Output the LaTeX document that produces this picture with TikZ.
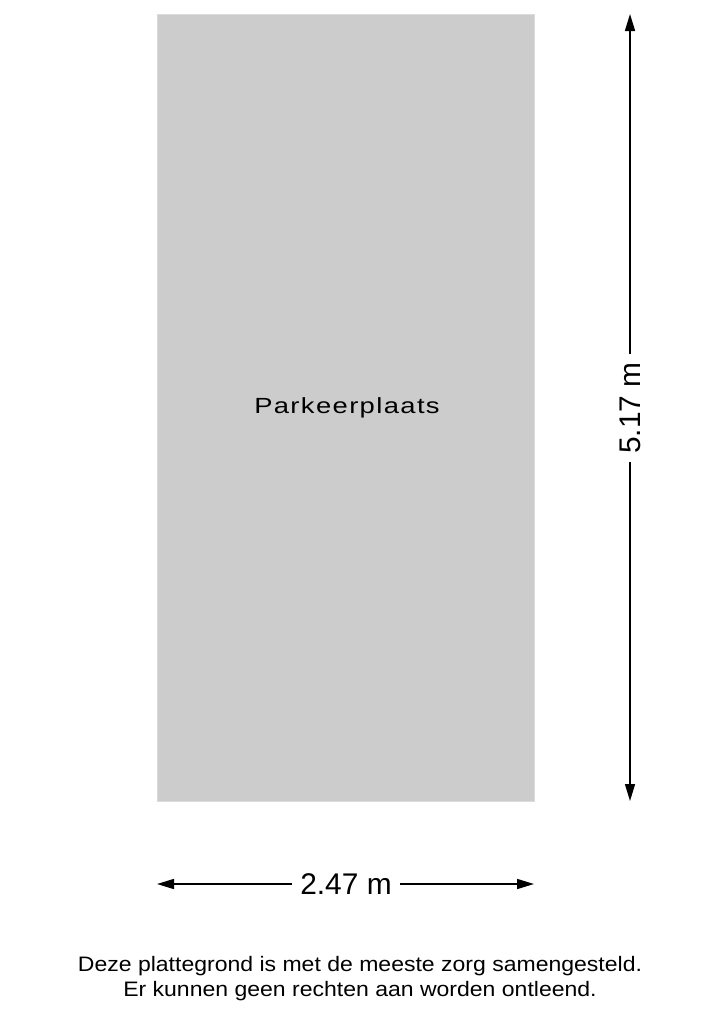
\documentclass[tikz,border=0pt]{standalone}
\usepackage{fontspec}
\setmainfont{Liberation Sans}
\usetikzlibrary{arrows.meta}
\definecolor{areagray}{RGB}{204,204,204}
\begin{document}
\begin{tikzpicture}[x=1bp,y=-1bp]
		\useasboundingbox (0,0) rectangle (720,1017);
		\tikzset{area/.style = {fill=areagray, draw=areagray!70!white, line width=0.8bp},
			dimline/.style = {line width=1.5bp, -{Triangle[length=17bp,width=10bp]}},
			dimlabel/.style = {font=\fontsize{30}{32}\selectfont, inner sep=8bp}}
		\draw[area] (157,14) rectangle (534,801);
		\node[xscale=1.25, transform shape, font=\fontsize{22}{26}\selectfont\addfontfeatures{LetterSpace=5}] (parking) at (347,408) {Parkeerplaats};
		% maten
		\coordinate (top) at (630,14);
		\coordinate (bottom) at (630,801);
		\node[dimlabel, rotate=90] (height) at (630,408) {5.17 m};
		\draw[dimline] (height.east) -- (top);
		\draw[dimline] (height.west) -- (bottom);
		\coordinate (left) at (157,884);
		\coordinate (right) at (534,884);
		\node[dimlabel] (width) at (346,884) {2.47 m};
		\draw[dimline] (width.west) -- (left);
		\draw[dimline] (width.east) -- (right);
		\node[align=center, xscale=1.1, transform shape, font=\fontsize{21}{25}\selectfont] (note) at (360,979)
			{Deze plattegrond is met de meeste zorg samengesteld.\\Er kunnen geen rechten aan worden ontleend.};
		\end{tikzpicture}
\end{document}
